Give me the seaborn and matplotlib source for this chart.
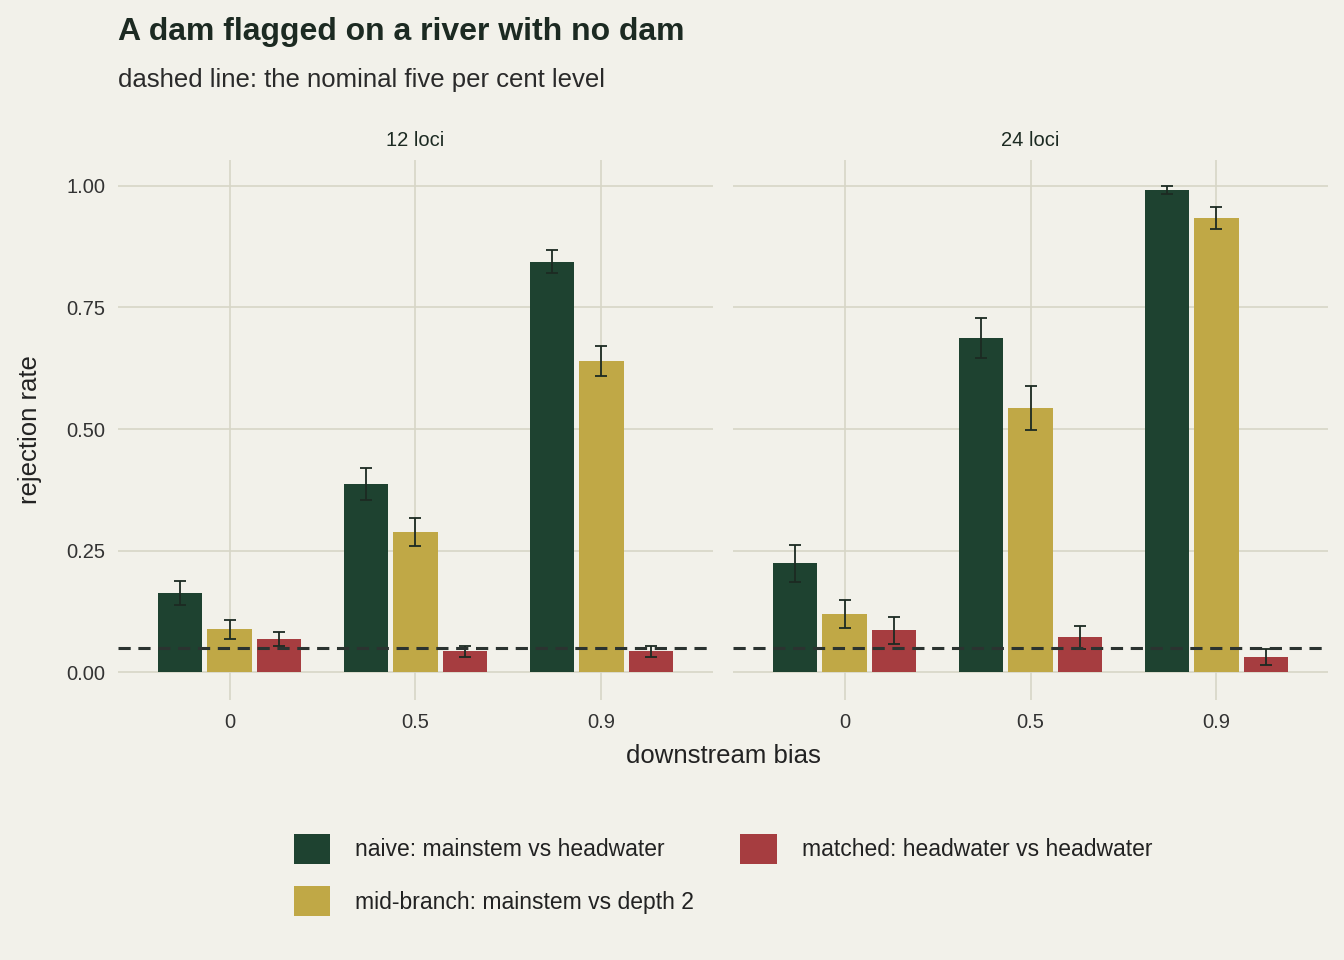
import matplotlib
matplotlib.use("Agg")
import matplotlib.pyplot as plt
import seaborn as sns
import pandas as pd
from matplotlib.patches import Patch

panels = ["12 loci", "24 loci"]
biases = ["0", "0.5", "0.9"]
methods = ["naive: mainstem vs headwater", "mid-branch: mainstem vs depth 2", "matched: headwater vs headwater"]
colors = ["#1E4230", "#C0A846", "#A63D40"]
# rate[panel][method][bias]
rate = {
    "12 loci": [[0.163, 0.387, 0.844], [0.088, 0.288, 0.640], [0.068, 0.043, 0.043]],
    "24 loci": [[0.224, 0.687, 0.992], [0.119, 0.543, 0.934], [0.086, 0.072, 0.031]],
}
err = {
    "12 loci": [[0.025, 0.033, 0.024], [0.020, 0.029, 0.030], [0.015, 0.012, 0.012]],
    "24 loci": [[0.038, 0.041, 0.008], [0.029, 0.045, 0.023], [0.028, 0.024, 0.017]],
}
nominal = 0.05

bg = "#F2F1EA"
grid = "#D7D6C6"
ink = "#1C2A22"
sns.set_theme(style="white")
plt.rcParams["font.family"] = ["Liberation Sans", "DejaVu Sans"]

fig = plt.figure(figsize=(13.44, 9.6), dpi=100, facecolor=bg)
W, H = 1344, 960
for i, p in enumerate(panels):
    x0 = 118 if i == 0 else 733
    ax = fig.add_axes([x0 / W, 1 - 700 / H, 595 / W, 540 / H], facecolor=bg)
    rows = []
    for m, mname in enumerate(methods):
        for b, bn in enumerate(biases):
            rows.append(dict(bias=bn, method=mname, rate=rate[p][m][b]))
    df = pd.DataFrame(rows)
    sns.barplot(data=df, x="bias", y="rate", hue="method", order=biases, hue_order=methods,
                palette=colors, width=0.8, gap=0.1, errorbar=None, legend=False, ax=ax,
                saturation=1, linewidth=0, zorder=2)
    for m, mname in enumerate(methods):
        cont = ax.containers[m]
        for b, patch in enumerate(cont.patches):
            xc = patch.get_x() + patch.get_width() / 2
            ax.errorbar(xc, rate[p][m][b], yerr=err[p][m][b], color=ink, lw=1.3,
                        capsize=4, capthick=1.3, zorder=3)
    ax.axhline(nominal, color="#2B3330", ls=(0, (4, 2.5)), lw=2.2, zorder=4)
    ax.set_xlim(-0.6, 2.6)
    ax.set_ylim(-0.057, 1.053)
    ax.set_yticks([0, 0.25, 0.5, 0.75, 1.0])
    ax.grid(True, color=grid, lw=1.2, zorder=0)
    ax.set_axisbelow(True)
    for s in ax.spines.values():
        s.set_visible(False)
    ax.tick_params(axis="both", length=0, labelsize=14.5, colors="#333333", pad=9)
    ax.set_xlabel("")
    ax.set_ylabel("")
    if i == 0:
        ax.set_yticklabels(["0.00", "0.25", "0.50", "0.75", "1.00"])
    else:
        ax.set_yticklabels([])
    ax.set_title(p, fontsize=14.5, color=ink, pad=10)

fig.text(118 / W, 1 - 32 / H, "A dam flagged on a river with no dam", fontsize=23, fontweight="bold",
         color=ink, va="center")
fig.text(118 / W, 1 - 80 / H, "dashed line: the nominal five per cent level", fontsize=18.5,
         color="#2A2A2A", va="center")
fig.text(723 / W, 1 - 756 / H, "downstream bias", fontsize=18.5, color="#222222", ha="center", va="center")
fig.text(30 / W, 1 - 430 / H, "rejection rate", fontsize=18.5, color="#222222", rotation=90,
         ha="center", va="center")

handles = [Patch(facecolor=c, edgecolor="none", label=l) for c, l in zip(colors, methods)]
leg = fig.legend(handles=handles, ncol=2, loc="center", bbox_to_anchor=(723 / W, 1 - 875 / H),
                 frameon=False, fontsize=16.5, handlelength=1.6, handleheight=1.6,
                 columnspacing=2.0, labelspacing=1.0, handletextpad=1.1)
for t in leg.get_texts():
    t.set_color("#222222")

fig.savefig("out.png", dpi=100, facecolor=bg)
